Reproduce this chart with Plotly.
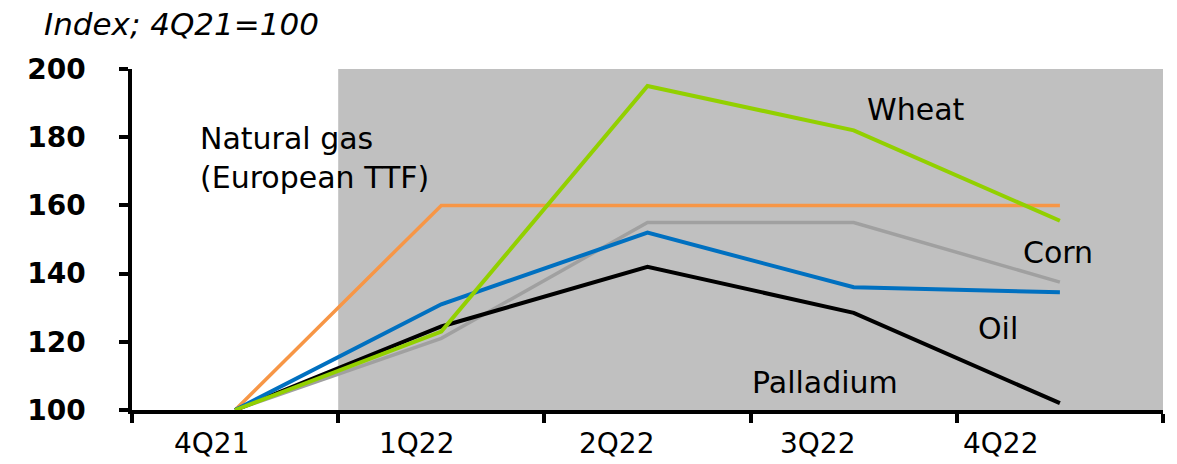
import plotly.graph_objects as go

# Quarterly commodity price indices (4Q21 = 100)
quarters = ["4Q21", "1Q22", "2Q22", "3Q22", "4Q22"]
natural_gas = [100, 160, 160, 160, 160]
wheat = [100, 123, 195, 182, 155.5]
corn = [100, 121, 155, 155, 137.5]
oil = [100, 131, 152, 136, 134.5]
palladium = [100, 124.5, 142, 128.5, 102]

y_ticks = [100, 120, 140, 160, 180, 200]

FONT = "DejaVu Sans"
x_pos = list(range(len(quarters)))

series = [
    ("Natural gas (European TTF)", natural_gas, "#F79646", 3.5),
    ("Corn", corn, "#A0A0A0", 3.5),
    ("Palladium", palladium, "#000000", 4),
    ("Oil", oil, "#0070C0", 4),
    ("Wheat", wheat, "#92D000", 4),
]

fig = go.Figure()
for name, vals, color, width in series:
    fig.add_trace(go.Scatter(
        x=x_pos, y=vals, mode="lines", name=name,
        line=dict(color=color, width=width),
        hoverinfo="skip", showlegend=False,
    ))

# shaded forecast period (1Q22 onwards)
fig.add_shape(type="rect", xref="x", yref="y", x0=0.5, x1=4.5, y0=100, y1=200,
              fillcolor="#C0C0C0", line_width=0, layer="below")

label_font = dict(family=FONT, size=30, color="#000000")

# in-chart series labels
series_labels = [
    ("Natural gas<br>(European TTF)", -0.18, 174, "left"),
    ("Wheat", 3.30, 188, "center"),
    ("Corn", 3.99, 146.3, "center"),
    ("Oil", 3.70, 124, "center"),
    ("Palladium", 2.86, 108, "center"),
]
for text, x, y, anchor in series_labels:
    fig.add_annotation(x=x, y=y, xref="x", yref="y", text=text, showarrow=False,
                       xanchor=anchor, yanchor="middle", align="left",
                       font=label_font)

# category labels, set slightly left of each band centre
label_shift = [-24, -25, -31, -36, -59]
for q, xp, dx in zip(quarters, x_pos, label_shift):
    fig.add_annotation(x=xp, y=0, xref="x", yref="paper", text=q, showarrow=False,
                       xanchor="center", yanchor="top", xshift=dx, yshift=-15,
                       font=dict(family=FONT, size=28, color="#000000"))

# unit note above the axis
fig.add_annotation(x=-0.087, y=1.132, xref="paper", yref="paper",
                   text="<i>Index; 4Q21=100</i>", showarrow=False,
                   xanchor="left", yanchor="middle",
                   font=dict(family=FONT, size=31, color="#000000"))

fig.update_xaxes(
    range=[-0.5, 4.5], showgrid=False, zeroline=False,
    showline=True, linecolor="#000000", linewidth=3.5,
    ticks="outside", ticklen=9, tickwidth=3.5, tickcolor="#000000",
    tickvals=[i - 0.5 for i in range(len(quarters) + 1)],
    ticktext=[""] * (len(quarters) + 1),
)
fig.update_yaxes(
    range=[100, 200], showgrid=False, zeroline=False,
    showline=True, linecolor="#000000", linewidth=3.5,
    ticks="outside", ticklen=9, tickwidth=3.5, tickcolor="#000000",
    tickvals=y_ticks, ticktext=[str(v) for v in y_ticks],
    tickfont=dict(family=FONT, size=28, color="#000000", weight="bold"),
    ticklabelstandoff=28,
)

fig.update_layout(
    width=1177, height=464,
    margin=dict(l=132, r=14, t=69, b=54),
    paper_bgcolor="#FFFFFF", plot_bgcolor="#FFFFFF",
)

fig.write_html("out.html")
